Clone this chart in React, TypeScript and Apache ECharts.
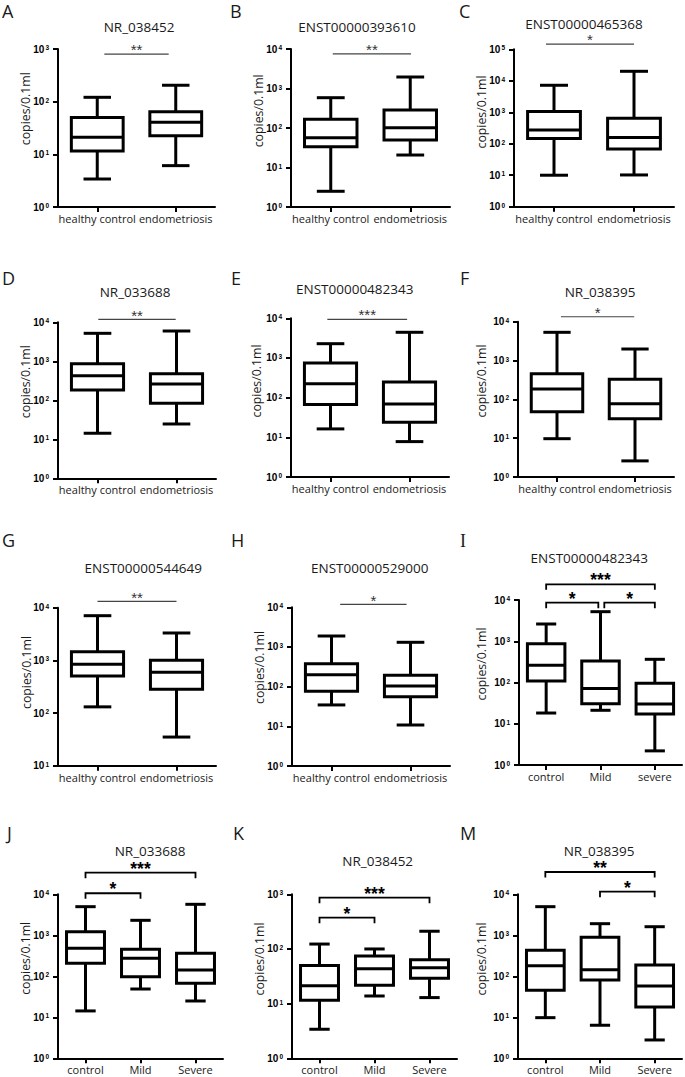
import React, { useEffect, useRef } from "react";
import * as echarts from "echarts";

// ---------- DATA ----------
const panelLetters = ["A", "B", "C", "D", "E", "F", "G", "H", "I", "J", "K", "M"];
const panelTitles = [
  "NR_038452", "ENST00000393610", "ENST00000465368",
  "NR_033688", "ENST00000482343", "NR_038395",
  "ENST00000544649", "ENST00000529000", "ENST00000482343",
  "NR_033688", "NR_038452", "NR_038395",
];
const twoGroups = ["healthy control", "endometriosis"];
const stageGroupsLower = ["control", "Mild", "severe"];
const stageGroups = ["control", "Mild", "Severe"];
const yAxisName = "copies/0.1ml";

// y axis range as decade exponents
const yMinExponent = [0, 0, 0, 0, 0, 0, 1, 0, 0, 0, 0, 0];
const yMaxExponent = [3, 4, 5, 4, 4, 4, 4, 4, 4, 4, 3, 4];

// box stats per group: [lower whisker, Q1, median, Q3, upper whisker]
const boxA = [[3.4, 11.6, 21, 50, 121], [6.1, 22.6, 40.5, 64, 205]];
const boxB = [[2.5, 33.6, 57, 166, 585], [20.7, 49.7, 102, 286, 1955]];
const boxC = [[10, 148, 275, 1050, 7200], [10.2, 68, 158, 645, 20000]];
const boxD = [[14.3, 184, 427, 870, 5220], [24.7, 84, 262, 481, 5980]];
const boxE = [[16.3, 67, 225, 748, 2290], [7.8, 24, 69, 248, 4440]];
const boxF = [[9.7, 47.9, 184, 457, 5330], [2.6, 31.6, 77, 327, 1980]];
const boxG = [[131, 506, 843, 1462, 7050], [35, 283, 594, 1004, 3310]];
const boxH = [[34.6, 76.6, 200, 380, 1890], [10.8, 56, 104, 194, 1312]];
const boxI = [[18.2, 109, 261, 873, 2620], [21.2, 30.7, 72, 332, 5210], [2.2, 17.3, 30, 95.5, 365]];
const boxJ = [[14.3, 207, 482, 1225, 4990], [49, 98, 275, 456, 2320], [25, 67.5, 143, 364, 5700]];
const boxK = [[3.4, 11.5, 21.3, 50, 123], [13.8, 21.7, 43.6, 74.5, 100], [12.9, 29.1, 45.5, 63.8, 211]];
const boxM = [[9.8, 45.6, 181, 430, 4990], [6.4, 81, 145, 893, 1920], [2.8, 17.9, 58, 189, 1620]];

// significance marks: from / to (category position), value (height on y axis), label
const sigA = [{ from: 0.09, to: 0.91, value: 800, label: "**" }];
const sigB = [{ from: 0.025, to: 1.01, value: 7500, label: "**" }];
const sigC = [{ from: -0.1, to: 1.0, value: 147000, label: "*" }];
const sigD = [{ from: 0.01, to: 0.99, value: 11900, label: "**" }];
const sigE = [{ from: -0.04, to: 0.97, value: 9440, label: "***" }];
const sigF = [{ from: 0.05, to: 0.99, value: 13400, label: "*" }];
const sigG = [{ from: 0, to: 1, value: 13200, label: "**" }];
const sigH = [{ from: 0.11, to: 0.95, value: 11900, label: "*" }];
const sigI = [
  { from: 0, to: 2, value: 24000, label: "***" },
  { from: 0, to: 0.96, value: 8600, label: "*" },
  { from: 1.07, to: 2, value: 8600, label: "*" },
];
const sigJ = [
  { from: 0, to: 2, value: 33700, label: "***" },
  { from: 0, to: 1, value: 10600, label: "*" },
];
const sigK = [
  { from: 0, to: 2, value: 866, label: "***" },
  { from: 0, to: 1, value: 373, label: "*" },
];
const sigM = [
  { from: 0, to: 2, value: 35000, label: "**" },
  { from: 1, to: 2, value: 11600, label: "*" },
];

const panelCategories = [
  twoGroups, twoGroups, twoGroups, twoGroups, twoGroups, twoGroups, twoGroups, twoGroups,
  stageGroupsLower, stageGroups, stageGroups, stageGroups,
];
const panelBoxes = [boxA, boxB, boxC, boxD, boxE, boxF, boxG, boxH, boxI, boxJ, boxK, boxM];
const panelSigs = [sigA, sigB, sigC, sigD, sigE, sigF, sigG, sigH, sigI, sigJ, sigK, sigM];

// ---------- LAYOUT ----------
const gridRects = [
  { left: 58, top: 49, width: 157, height: 158 },
  { left: 291, top: 49, width: 159, height: 158 },
  { left: 514, top: 49.3, width: 160, height: 157.4 },
  { left: 58, top: 322.3, width: 158, height: 156 },
  { left: 291, top: 318.3, width: 158, height: 158.7 },
  { left: 518, top: 321.7, width: 156, height: 155.3 },
  { left: 58, top: 607.7, width: 158, height: 158 },
  { left: 292, top: 607.3, width: 158, height: 158.7 },
  { left: 519, top: 600, width: 163, height: 165 },
  { left: 58, top: 894.3, width: 165, height: 164 },
  { left: 292, top: 894.3, width: 165, height: 164 },
  { left: 518, top: 894.3, width: 164, height: 164 },
];
const titleCenters = [
  [139, 26.5], [357, 26.5], [584, 23.5],
  [135, 291.7], [354.7, 289], [600, 291.7],
  [143.3, 567.7], [369.7, 568.3], [589.3, 557.7],
  [150, 850.5], [377.7, 861], [599, 850.5],
];
const letterPos = [
  [2, 10.7], [230, 11], [459, 11],
  [2, 277.5], [231, 277.5], [460, 277.5],
  [2, 539.5], [231, 540], [460, 540.5],
  [7, 833], [233, 833], [460, 833],
];
const yNamePos = [
  [25, 108.7], [258, 110.8], [481.7, 112],
  [25, 381.7], [256, 381], [481.7, 381],
  [26.7, 672.5], [259.7, 667.5], [481.7, 664],
  [25, 958.3], [259.7, 959], [481.7, 959],
];

const TEXT = "#1a1a1a";
const SANS = "'Open Sans', 'Noto Sans', sans-serif";
const ARIAL = "'Liberation Sans', Arial, sans-serif";

function makeBoxRender(n: number) {
  const boxRatio = n === 2 ? 0.66 : 0.69;
  const capRatio = n === 2 ? 0.35 : 0.37;
  return (params: any, api: any) => {
    const idx = api.value(0);
    const band = params.coordSys.width / n;
    const pLow = api.coord([idx, api.value(1)]);
    const x = pLow[0];
    const yLow = pLow[1];
    const yQ1 = api.coord([idx, api.value(2)])[1];
    const yMed = api.coord([idx, api.value(3)])[1];
    const yQ3 = api.coord([idx, api.value(4)])[1];
    const yHigh = api.coord([idx, api.value(5)])[1];
    const bw = band * boxRatio;
    const cw = band * capRatio;
    const ls = { stroke: "#000", lineWidth: 3, fill: null };
    return {
      type: "group",
      children: [
        { type: "line", shape: { x1: x, y1: yHigh, x2: x, y2: yQ3 }, style: ls },
        { type: "line", shape: { x1: x, y1: yQ1, x2: x, y2: yLow }, style: ls },
        { type: "line", shape: { x1: x - cw / 2, y1: yHigh, x2: x + cw / 2, y2: yHigh }, style: ls },
        { type: "line", shape: { x1: x - cw / 2, y1: yLow, x2: x + cw / 2, y2: yLow }, style: ls },
        {
          type: "rect",
          shape: { x: x - bw / 2, y: yQ3, width: bw, height: yQ1 - yQ3 },
          style: { fill: "#fff", stroke: "#000", lineWidth: 3 },
        },
        { type: "line", shape: { x1: x - bw / 2, y1: yMed, x2: x + bw / 2, y2: yMed }, style: ls },
      ],
    };
  };
}

function makeSigRender(sigs: any[], n: number, bracket: boolean) {
  return (params: any, api: any) => {
    const s = sigs[params.dataIndex];
    const band = params.coordSys.width / n;
    const b0 = Math.round(s.from);
    const b1 = Math.round(s.to);
    const p0 = api.coord([b0, s.value]);
    const p1 = api.coord([b1, s.value]);
    const x0 = p0[0] + (s.from - b0) * band;
    const x1 = p1[0] + (s.to - b1) * band;
    const y = p0[1];
    const children: any[] = [];
    if (bracket) {
      const st = { stroke: "#000", lineWidth: 1.8, fill: null };
      children.push({
        type: "polyline",
        shape: { points: [[x0, y + 5.5], [x0, y], [x1, y], [x1, y + 5.5]] },
        style: st,
      });
      children.push({
        type: "text",
        x: (x0 + x1) / 2,
        y: y - 4,
        style: {
          text: s.label, align: "center", verticalAlign: "middle", lineHeight: 10,
          fontFamily: ARIAL, fontSize: 17.5, fontWeight: "bold", fill: "#000",
        },
      });
    } else {
      children.push({
        type: "line",
        shape: { x1: x0, y1: y, x2: x1, y2: y },
        style: { stroke: "#444", lineWidth: 1.2 },
      });
      children.push({
        type: "text",
        x: (x0 + x1) / 2,
        y: y - 4.3,
        style: {
          text: s.label, align: "center", verticalAlign: "middle", lineHeight: 9,
          fontFamily: ARIAL, fontSize: 15, fill: "#333",
        },
      });
    }
    return { type: "group", children };
  };
}

function buildOption() {
  const grid: any[] = [];
  const xAxis: any[] = [];
  const yAxis: any[] = [];
  const series: any[] = [];
  const title: any[] = [];
  const graphic: any[] = [];

  panelLetters.forEach((letter, i) => {
    const cats = panelCategories[i];
    const n = cats.length;
    grid.push({ ...gridRects[i], containLabel: false, outerBoundsMode: "none" });
    xAxis.push({
      type: "category",
      gridIndex: i,
      data: cats,
      boundaryGap: true,
      axisLine: { show: true, onZero: false, lineStyle: { color: "#000", width: 2 } },
      axisTick: { show: true, alignWithLabel: true, length: 5, lineStyle: { color: "#000", width: 2 } },
      axisLabel: {
        interval: 0, margin: 6, fontFamily: SANS, fontSize: 11, color: TEXT,
      },
      splitLine: { show: false },
    });
    yAxis.push({
      type: "log",
      logBase: 10,
      gridIndex: i,
      min: Math.pow(10, yMinExponent[i]),
      max: Math.pow(10, yMaxExponent[i]),
      axisLine: { show: true, lineStyle: { color: "#000", width: 2 } },
      axisTick: { show: true, length: 5, lineStyle: { color: "#000", width: 2 } },
      minorTick: { show: false },
      splitLine: { show: false },
      axisLabel: {
        margin: 9,
        formatter: (v: number) => `{b|10}{s|${Math.round(Math.log10(v))}}`,
        rich: {
          b: { fontFamily: ARIAL, fontSize: 10, fontWeight: "bold", color: "#000" },
          s: { fontFamily: ARIAL, fontSize: 6.5, fontWeight: "bold", color: "#000", verticalAlign: "top", padding: [0, 0, 0, 1] },
        },
      },
    });
    series.push({
      type: "custom",
      name: panelTitles[i] + " " + letter,
      xAxisIndex: i,
      yAxisIndex: i,
      renderItem: makeBoxRender(n),
      encode: { x: 0, y: [1, 2, 3, 4, 5] },
      data: panelBoxes[i].map((st, j) => [j, ...st]),
      silent: true,
    });
    const sigs = panelSigs[i];
    series.push({
      type: "custom",
      name: "sig " + letter,
      xAxisIndex: i,
      yAxisIndex: i,
      renderItem: makeSigRender(sigs, n, n === 3),
      encode: { x: 0, y: 1 },
      data: sigs.map((s) => [Math.round(s.from), s.value]),
      clip: false,
      silent: true,
    });
    title.push({
      text: panelTitles[i],
      left: titleCenters[i][0],
      top: titleCenters[i][1] - 7.5,
      textAlign: "center",
      padding: 0,
      textStyle: { fontFamily: SANS, fontSize: 13.5, fontWeight: "normal", color: TEXT, lineHeight: 15 },
    });
    graphic.push({
      type: "text",
      x: letterPos[i][0],
      y: letterPos[i][1],
      style: {
        text: letter,
        align: "left",
        verticalAlign: "middle",
        fontFamily: letter === "I" ? "'Liberation Serif', 'DejaVu Serif', serif" : SANS,
        fontSize: 18,
        fill: TEXT,
      },
    });
    graphic.push({
      type: "text",
      x: yNamePos[i][0],
      y: yNamePos[i][1],
      rotation: Math.PI / 2,
      style: {
        text: yAxisName,
        align: "center",
        verticalAlign: "middle",
        fontFamily: SANS,
        fontSize: 12.3,
        fill: TEXT,
      },
    });
  });

  return {
    animation: false,
    backgroundColor: "#fff",
    title,
    grid,
    xAxis,
    yAxis,
    series,
    graphic,
  };
}

export default function App() {
  const ref = useRef<HTMLDivElement>(null);
  useEffect(() => {
    if (!ref.current) return;
    const chart = echarts.init(ref.current, null, { renderer: "svg" });
    chart.setOption(buildOption() as any);
    return () => chart.dispose();
  }, []);
  return (
    <div
      ref={ref}
      style={{ position: "fixed", left: 0, top: 0, width: 685, height: 1077, background: "#fff" }}
    />
  );
}
